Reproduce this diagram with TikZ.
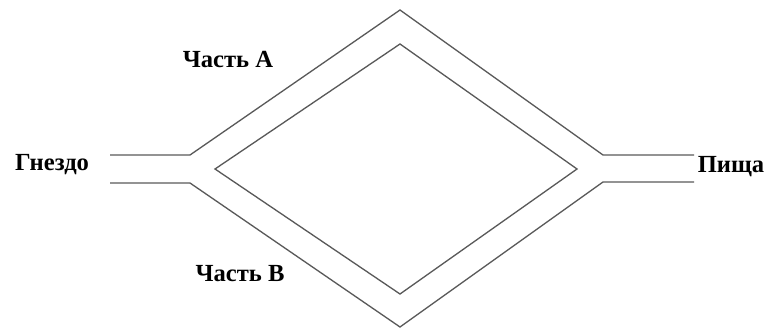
\documentclass[tikz,border=0pt]{standalone}
\usepackage{fontspec}
\setmainfont{Liberation Serif}
\usepackage{tikz}

\begin{document}
\begin{tikzpicture}[x=0.02cm, y=-0.02cm, every node/.style={font=\bfseries\fontsize{14}{16}\selectfont}, path/.style={draw=black!65, line width=0.75pt, line join=miter}]
	\useasboundingbox (0,0) rectangle (766,334);
	% outer edges of the two branches
	\coordinate (nestT) at (110,155);
	\coordinate (nestB) at (110,183);
	\coordinate (foodT) at (694,155);
	\coordinate (foodB) at (694,182);
	\draw[path] (nestT) -- (190,155) -- (400,10) -- (603,155) -- (foodT);
	\draw[path] (nestB) -- (190,183) -- (400,327) -- (603,182) -- (foodB);
	% inner island
	\draw[path] (215,169) -- (400,44) -- (577,169) -- (400,294) -- cycle;
	\node (nest) at (52,165) {Гнездо};
	\node (food) at (731,167) {Пища};
	\node (partA) at (228,60) {Часть А};
	\node (partB) at (240,274) {Часть B};
\end{tikzpicture}
\end{document}
